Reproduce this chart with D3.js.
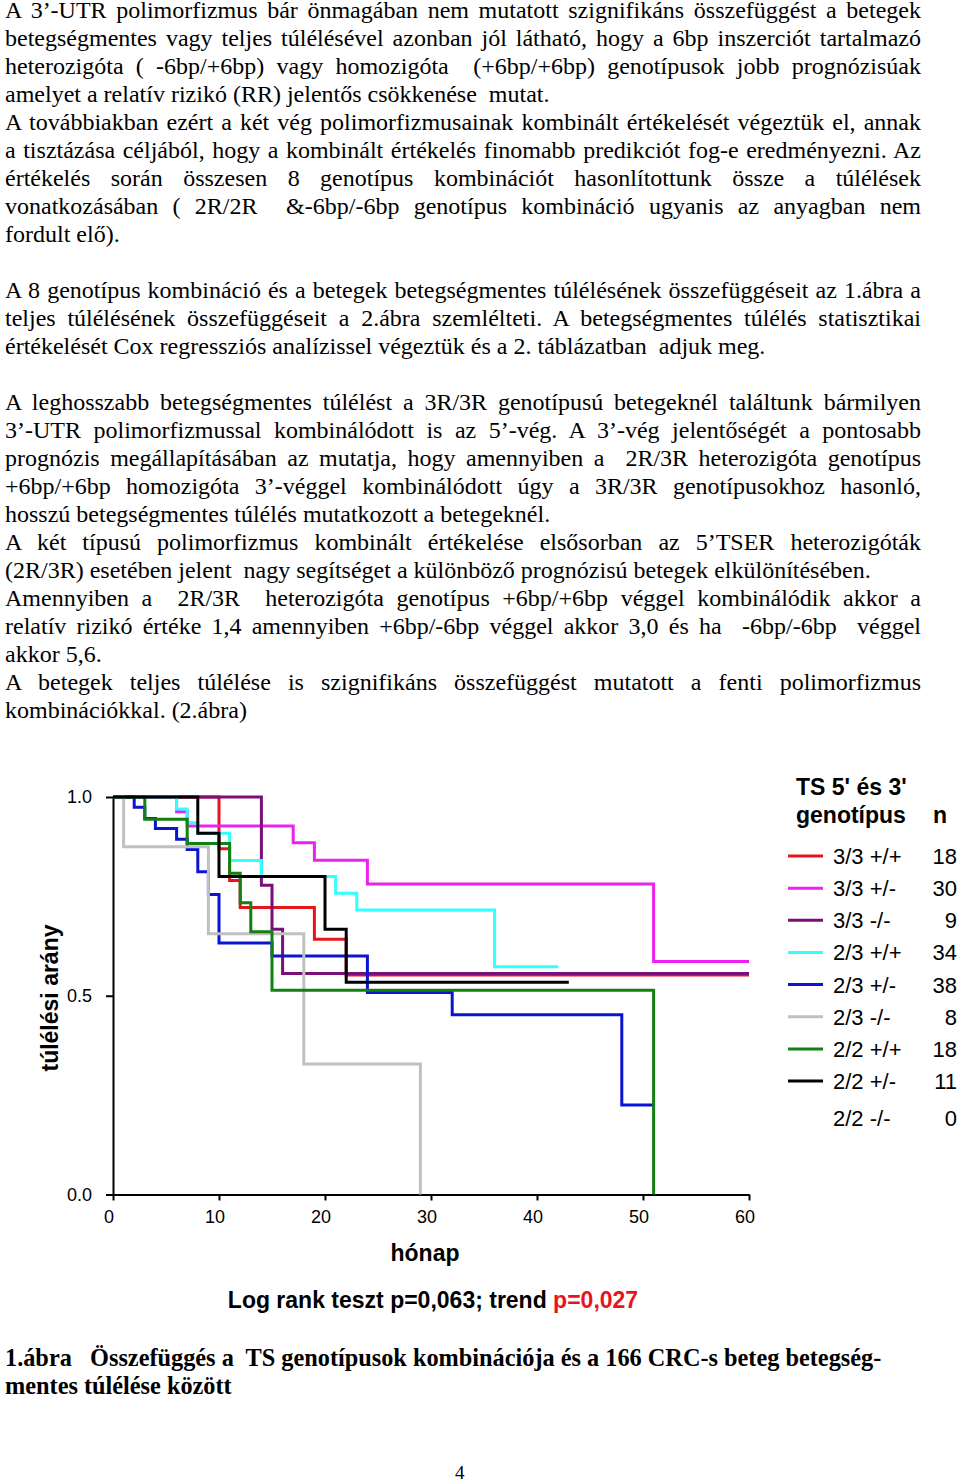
<!DOCTYPE html>
<html><head><meta charset="utf-8">
<script src="https://cdn.jsdelivr.net/npm/d3@7"></script>
<style>
html,body{margin:0;padding:0;background:#fff;}
body{width:960px;height:1481px;position:relative;overflow:hidden;}
.ln{position:absolute;left:5px;font-family:"Liberation Serif","Times New Roman",serif;font-size:24px;line-height:28px;white-space:pre;color:#000;}
.cap{font-weight:bold;font-size:24.3px;}
svg{position:absolute;left:0;top:0;}
</style></head><body>
<script>
// ---------- body text (row index, text, justified?) ----------
const textRows = [0,1,2,3,4,5,6,7,8,10,11,12,14,15,16,17,18,19,20,21,22,23,24,25];
const textLines = [
"A 3’-UTR polimorfizmus bár önmagában nem mutatott szignifikáns összefüggést a betegek",
"betegségmentes vagy teljes túlélésével azonban jól látható, hogy a 6bp inszerciót tartalmazó",
"heterozigóta ( -6bp/+6bp) vagy homozigóta  (+6bp/+6bp) genotípusok jobb prognózisúak",
"amelyet a relatív rizikó (RR) jelentős csökkenése  mutat.",
"A továbbiakban ezért a két vég polimorfizmusainak kombinált értékelését végeztük el, annak",
"a tisztázása céljából, hogy a kombinált értékelés finomabb predikciót fog-e eredményezni. Az",
"értékelés során összesen 8 genotípus kombinációt hasonlítottunk össze a túlélések",
"vonatkozásában ( 2R/2R  &-6bp/-6bp genotípus kombináció ugyanis az anyagban nem",
"fordult elő).",
"A 8 genotípus kombináció és a betegek betegségmentes túlélésének összefüggéseit az 1.ábra a",
"teljes túlélésének összefüggéseit a 2.ábra szemlélteti. A betegségmentes túlélés statisztikai",
"értékelését Cox regressziós analízissel végeztük és a 2. táblázatban  adjuk meg.",
"A leghosszabb betegségmentes túlélést a 3R/3R genotípusú betegeknél találtunk bármilyen",
"3’-UTR polimorfizmussal kombinálódott is az 5’-vég. A 3’-vég jelentőségét a pontosabb",
"prognózis megállapításában az mutatja, hogy amennyiben a  2R/3R heterozigóta genotípus",
"+6bp/+6bp homozigóta 3’-véggel kombinálódott úgy a 3R/3R genotípusokhoz hasonló,",
"hosszú betegségmentes túlélés mutatkozott a betegeknél.",
"A két típusú polimorfizmus kombinált értékelése elsősorban az 5’TSER heterozigóták",
"(2R/3R) esetében jelent  nagy segítséget a különböző prognózisú betegek elkülönítésében.",
"Amennyiben a  2R/3R  heterozigóta genotípus +6bp/+6bp véggel kombinálódik akkor a",
"relatív rizikó értéke 1,4 amennyiben +6bp/-6bp véggel akkor 3,0 és ha  -6bp/-6bp  véggel",
"akkor 5,6.",
"A betegek teljes túlélése is szignifikáns összefüggést mutatott a fenti polimorfizmus",
"kombinációkkal. (2.ábra)"
];
const textJustified = [1,1,1,0,1,1,1,1,0,1,1,0,1,1,1,1,0,1,0,1,1,0,1,0];
const captionLines = [
"1.ábra   Összefüggés a  TS genotípusok kombinációja és a 166 CRC-s beteg betegség-",
"mentes túlélése között"
];

// ---------- chart data ----------
const genotypes = ["3/3 +/+","3/3 +/-","3/3 -/-","2/3 +/+","2/3 +/-","2/3 -/-","2/2 +/+","2/2 +/-","2/2 -/-"];
const counts = [18,30,9,34,38,8,18,11,0];
const colors = ["#e8141c","#ee22ee","#7a0f7a","#33ffff","#0a14d2","#c0c0c0","#138013","#000000",null];
const monthTicks = [0,10,20,30,40,50,60];
const survTicks = [0,0.5,1.0];

const t_33pp = [0,10,11,12,19,22,60];
const s_33pp = [1,0.87,0.79,0.722,0.642,0.552,0.552];
const t_33pm = [0,6,7,17,19,24,51,60];
const s_33pm = [1,0.963,0.927,0.885,0.841,0.781,0.586,0.586];
const t_33mm = [0,14,15,16,60];
const s_33mm = [1,0.778,0.667,0.556,0.556];
const t_23pp = [0,6,7,8,11,14,21,23,36,42];
const s_23pp = [1,0.97,0.935,0.909,0.84,0.80,0.758,0.716,0.573,0.573];
const t_23pm = [0,2,3,4,6,7,8,9,10,15,24,32,48,51];
const s_23pm = [1,0.974,0.946,0.921,0.894,0.868,0.812,0.755,0.633,0.60,0.508,0.452,0.225,0.225];
const t_23mm = [0,1,9,18,29];
const s_23mm = [1,0.875,0.656,0.328,0];
const t_22pp = [0,3,7,11,12,13,15,51];
const s_22pp = [1,0.944,0.883,0.808,0.734,0.661,0.514,0];
const t_22pm = [0,8,10,20,22,43];
const s_22pm = [1,0.909,0.80,0.667,0.534,0.534];

const seriesT = [t_33pp,t_33pm,t_33mm,t_23pp,t_23pm,t_23mm,t_22pp,t_22pm];
const seriesS = [s_33pp,s_33pm,s_33mm,s_23pp,s_23pm,s_23mm,s_22pp,s_22pm];

// ---------- body text rendering ----------
const body = d3.select("body");
const LINE_H = 28, TOP0 = -3.8, FULLW = 916;
textLines.forEach((txt,i)=>{
  const div = body.append("div").attr("class","ln")
    .style("top",(TOP0 + textRows[i]*LINE_H)+"px").text(txt);
  if (textJustified[i]) {
    const w = div.node().getBoundingClientRect().width;
    const nSp = (txt.match(/ /g)||[]).length;
    if (nSp>0) div.style("word-spacing",((FULLW - w)/nSp)+"px");
  }
});
captionLines.forEach((txt,i)=>{
  body.append("div").attr("class","ln cap")
    .style("top",(1343.5 + i*LINE_H)+"px").text(txt);
});
body.append("div").attr("class","ln")
  .style("left","455px").style("font-size","19px").style("top","1459px").text("4");

// ---------- chart ----------
const svg = body.append("svg").attr("width",960).attr("height",1481);
const x = d3.scaleLinear().domain([0,60]).range([113,749]);
const y = d3.scaleLinear().domain([0,1]).range([1194.5,797]);
const sans = "'Liberation Sans', Arial, sans-serif";

const xAxis = svg.append("g").attr("transform","translate(0,1194.5)")
  .call(d3.axisBottom(x).tickValues(monthTicks).tickSize(6).tickSizeOuter(0).tickPadding(10).tickFormat(d3.format("d")));
const yAxis = svg.append("g").attr("transform","translate(113,0)")
  .call(d3.axisLeft(y).tickValues(survTicks).tickSize(7).tickSizeOuter(0).tickPadding(14).tickFormat(d3.format(".1f")));
[xAxis,yAxis].forEach(g=>{
  g.select(".domain").attr("stroke","#000").attr("stroke-width",2);
  g.selectAll(".tick line").attr("stroke","#000").attr("stroke-width",2);
  g.selectAll(".tick text").attr("font-family",sans).attr("font-size",18).attr("fill","#000");
});
xAxis.selectAll(".tick text").attr("dx",-4.5);

const line = d3.line().x(d=>x(d[0])).y(d=>y(d[1])).curve(d3.curveStepAfter);
seriesT.forEach((ts,i)=>{
  const pts = ts.map((t,k)=>[t, seriesS[i][k]]);
  svg.append("path").attr("d",line(pts)).attr("fill","none")
    .attr("stroke",colors[i]).attr("stroke-width",3).attr("stroke-linejoin","miter");
});

// axis titles
svg.append("text").attr("x",425).attr("y",1261).attr("text-anchor","middle")
  .attr("font-family",sans).attr("font-weight","bold").attr("font-size",23).text("hónap");
svg.append("text").attr("transform","translate(58,998) rotate(-90)").attr("text-anchor","middle")
  .attr("font-family",sans).attr("font-weight","bold").attr("font-size",23).text("túlélési arány");
const lr = svg.append("text").attr("x",433).attr("y",1308).attr("text-anchor","middle")
  .attr("font-family",sans).attr("font-weight","bold").attr("font-size",23);
lr.append("tspan").text("Log rank teszt p=0,063; trend ");
lr.append("tspan").attr("fill","#e8141c").text("p=0,027");

// legend
const lg = svg.append("g").attr("font-family",sans);
lg.append("text").attr("x",796).attr("y",795).attr("font-weight","bold").attr("font-size",23).text("TS 5' és 3'");
lg.append("text").attr("x",796).attr("y",823).attr("font-weight","bold").attr("font-size",23).text("genotípus");
lg.append("text").attr("x",933).attr("y",823).attr("font-weight","bold").attr("font-size",23).text("n");
const rowY = i => i < 8 ? 856 + i*32.15 : 1118;
genotypes.forEach((g,i)=>{
  const yy = rowY(i);
  if (colors[i]) lg.append("line").attr("x1",788).attr("x2",823).attr("y1",yy).attr("y2",yy)
    .attr("stroke",colors[i]).attr("stroke-width",3);
  lg.append("text").attr("x",833).attr("y",yy+8).attr("font-size",22).text(g);
  lg.append("text").attr("x",957).attr("y",yy+8).attr("font-size",22).attr("text-anchor","end").text(counts[i]);
});
</script>
</body></html>
